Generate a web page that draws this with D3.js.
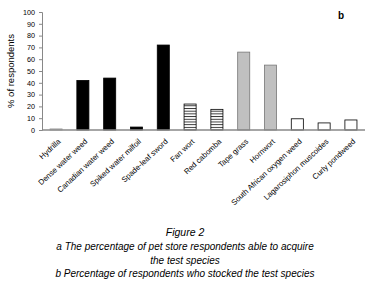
<!DOCTYPE html>
<html>
<head>
<meta charset="utf-8">
<script src="https://cdn.jsdelivr.net/npm/d3@7"></script>
<style>
	body { margin: 0; background: #fff; }
	text { font-family: "Liberation Sans", Arial, sans-serif; }
</style>
</head>
<body>
<script>
const species = ["Hydrilla", "Dense water weed", "Canadian water weed", "Spiked water milfoil",
	"Spade-leaf sword", "Fan wort", "Red cabomba", "Tape grass", "Hornwort",
	"South African oxygen weed", "Lagarosiphon muscoides", "Curly pondweed"];
const stocked = [1, 42, 44, 2.5, 72, 22, 17.5, 66, 55, 9.5, 6, 8.5];
const group = ["light", "black", "black", "black", "black", "hatch", "hatch", "gray", "gray", "white", "white", "white"];
const yTicks = [0, 10, 20, 30, 40, 50, 60, 70, 80, 90, 100];
const caption = ["a The percentage of pet store respondents able to acquire",
	"the test species",
	"b Percentage of respondents who stocked the test species"];

const width = 386, height = 285;
const margin = {top: 12, right: 21, bottom: 155, left: 42};

let svg = d3.select("body").append("svg")
	.attr("width", width)
	.attr("height", height);

svg.append("defs").append("pattern")
	.attr("id", "hatch")
	.attr("patternUnits", "userSpaceOnUse")
	.attr("width", 6).attr("height", 2.7)
	.call(p => {
		p.append("rect").attr("width", 6).attr("height", 2.7).attr("fill", "#fff");
		p.append("line").attr("x1", 0).attr("x2", 6).attr("y1", 0.5).attr("y2", 0.5)
			.attr("stroke", "#000").attr("stroke-width", 0.8);
	});

let scale = {
	x: d3.scaleBand().domain(species).range([margin.left, width - margin.right]).paddingInner(0.55).paddingOuter(0.3),
	y: d3.scaleLinear().domain([0, 100]).range([130, margin.top])
};

const fills = {light: "#ddd", black: "#000", hatch: "url(#hatch)", gray: "#c0c0c0", white: "#fff"};
const strokes = {light: "#aaa", black: "#000", hatch: "#000", gray: "#777", white: "#000"};

// bars
svg.append("g")
	.selectAll("rect")
	.data(species)
	.enter().append("rect")
	.attr("x", d => scale.x(d))
	.attr("width", scale.x.bandwidth())
	.attr("y", (d, i) => scale.y(stocked[i]))
	.attr("height", (d, i) => scale.y(0) - scale.y(stocked[i]))
	.attr("fill", (d, i) => fills[group[i]])
	.attr("stroke", (d, i) => strokes[group[i]])
	.attr("stroke-width", 0.8);

// y axis
let yAxis = svg.append("g")
	.attr("transform", `translate(${margin.left},0)`)
	.call(d3.axisLeft(scale.y).tickValues(yTicks).tickSize(3).tickPadding(4));
yAxis.select(".domain").attr("stroke", "#888");
yAxis.selectAll(".tick line").attr("stroke", "#888");
yAxis.selectAll(".tick text").attr("font-size", 7.2).attr("fill", "#000")
	.attr("font-family", "Liberation Sans, Arial, sans-serif");

// x axis
let xAxis = svg.append("g")
	.attr("transform", `translate(0,${scale.y(0)})`)
	.call(d3.axisBottom(scale.x).tickSize(0).tickSizeOuter(0));
xAxis.select(".domain").attr("stroke", "#888").attr("stroke-width", 1.5)
	.attr("d", `M${margin.left},0H${width - margin.right}`);
xAxis.selectAll(".tick text")
	.attr("font-size", 7.7)
	.attr("font-family", "Liberation Sans, Arial, sans-serif")
	.attr("fill", "#000")
	.attr("text-anchor", "end")
	.attr("dy", 0)
	.attr("transform", "translate(3,10) rotate(-43)");

svg.append("text")
	.attr("transform", `translate(14,${(scale.y(0) + scale.y(100)) / 2}) rotate(-90)`)
	.attr("text-anchor", "middle")
	.attr("font-size", 9.5)
	.text("% of respondents");

svg.append("text")
	.attr("x", 341).attr("y", 19)
	.attr("text-anchor", "middle")
	.attr("font-size", 10)
	.attr("font-weight", "bold")
	.text("b");

svg.append("text")
	.attr("x", 185).attr("y", 236)
	.attr("text-anchor", "middle")
	.attr("font-size", 10.5)
	.attr("font-style", "italic")
	.text("Figure 2");

svg.append("g")
	.selectAll("text")
	.data(caption)
	.enter().append("text")
	.attr("x", 185)
	.attr("y", (d, i) => 250 + i * 13.5)
	.attr("text-anchor", "middle")
	.attr("font-size", 10)
	.attr("font-style", "italic")
	.text(d => d);
</script>
</body>
</html>
